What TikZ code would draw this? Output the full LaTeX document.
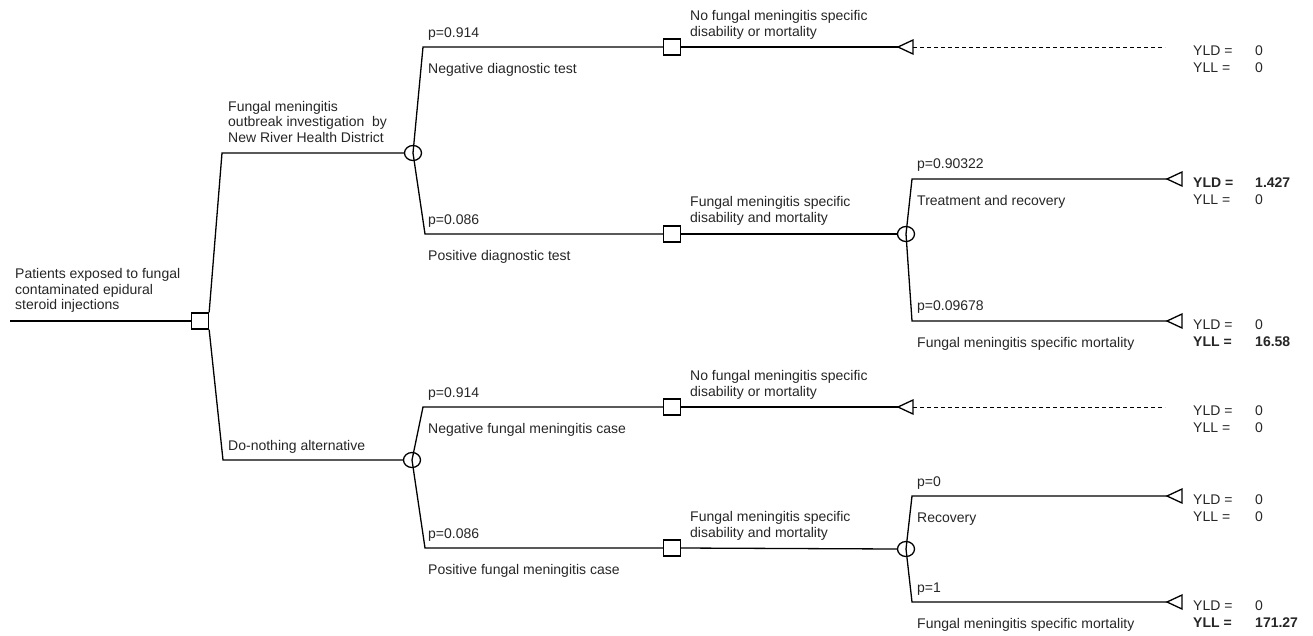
\documentclass[tikz,border=0pt]{standalone}
\usepackage{fontspec}
\setmainfont{Liberation Sans}
\usetikzlibrary{shapes.geometric}
\begin{document}
\begin{tikzpicture}[x=1pt,y=-1pt,
  txt/.style={anchor=base west, inner sep=0pt, font=\fontsize{14}{16}\selectfont, text=black!85},
  decnode/.style={draw, rectangle, line width=1.3pt, minimum width=17pt, minimum height=16pt, inner sep=0pt},
  chancenode/.style={draw, ellipse, line width=1.3pt, minimum width=17pt, minimum height=15pt, inner sep=0pt},
  branch/.style={line width=1.3pt},
  dashline/.style={line width=0.9pt, dash pattern=on 4pt off 3pt},
  tri/.style={line width=1.3pt, line join=miter}]
\useasboundingbox (0,0) rectangle (1313,635);

% ---------- nodes ----------
\coordinate (start) at (10,321);
\node[decnode] (d0) at (200,321) {};
\coordinate (c1) at (222,153);
\coordinate (c2) at (223,460);
\node[chancenode] (ch1) at (413,153) {};
\node[chancenode] (ch2) at (412,460) {};

\coordinate (c3) at (423,47);
\coordinate (c4) at (425,234);
\coordinate (c7) at (423,407);
\coordinate (c8) at (425,548);

\node[decnode] (s1) at (672,47) {};
\node[decnode] (s2) at (672,234) {};
\node[decnode] (s3) at (672,407) {};
\node[decnode] (s4) at (672,548) {};

\node[chancenode] (ch3) at (906,234) {};
\node[chancenode] (ch4) at (906,549) {};

\coordinate (c5) at (912,179);
\coordinate (c6) at (912,321);
\coordinate (c9) at (912,496);
\coordinate (c10) at (912,602);

% terminal tips
\coordinate (t1) at (898,47);
\coordinate (t1b) at (913,47);
\coordinate (e1) at (1165,47);
\coordinate (t4) at (898,407);
\coordinate (t4b) at (913,407);
\coordinate (e4) at (1165,407);
\coordinate (t2) at (1167,179);
\coordinate (t3) at (1167,321);
\coordinate (t5) at (1167,496);
\coordinate (t6) at (1167,602);

% ---------- connectors ----------
\draw[branch] (start) -- (d0.west);
\draw[branch] (d0.north east) -- (c1) -- (ch1.west);
\draw[branch] (d0.south east) -- (c2) -- (ch2.west);

\draw[branch] (ch1.center) -- (c3) -- (s1.west);
\draw[branch] (ch1.center) -- (c4) -- (s2.west);
\draw[branch] (ch2.center) -- (c7) -- (s3.west);
\draw[branch] (ch2.center) -- (c8) -- (s4.west);

\draw[branch] (s1.east) -- (t1);
\draw[branch] (s3.east) -- (t4);
\draw[branch] (s2.east) -- (ch3.west);
\draw[branch] (s4.east) -- (ch4.west);

\draw[branch] (ch3.center) -- (c5) -- (t2);
\draw[branch] (ch3.center) -- (c6) -- (t3);
\draw[branch] (ch4.center) -- (c9) -- (t5);
\draw[branch] (ch4.center) -- (c10) -- (t6);

\draw[dashline] (t1b) -- (e1);
\draw[dashline] (t4b) -- (e4);

% terminal triangles
\foreach \t in {t1,t2,t3,t4,t5,t6}{
  \draw[tri] (\t) -- ++(15,-7) -- ++(0,14) -- cycle;
}

% ---------- texts ----------
\node[txt] (r1) at (15,278) {Patients exposed to fungal};
\node[txt] (r2) at (15,294) {contaminated epidural};
\node[txt] (r3) at (15,309.5) {steroid injections};

\node[txt] (a1) at (228,111) {Fungal meningitis};
\node[txt] (a2) at (228,126.5) {outbreak investigation\ \ by};
\node[txt] (a3) at (228,142) {New River Health District};
\node[txt] (b1) at (228,450) {Do-nothing alternative};

\node[txt] (p1) at (428,37) {p=0.914};
\node[txt] (l1) at (428,73) {Negative diagnostic test};
\node[txt] (p2) at (428,224) {p=0.086};
\node[txt] (l2) at (428,260) {Positive diagnostic test};
\node[txt] (p3) at (428,397) {p=0.914};
\node[txt] (l3) at (428,433) {Negative fungal meningitis case};
\node[txt] (p4) at (428,538) {p=0.086};
\node[txt] (l4) at (428,574) {Positive fungal meningitis case};

\node[txt] (o1a) at (690,20.5) {No fungal meningitis specific};
\node[txt] (o1b) at (690,36) {disability or mortality};
\node[txt] (o2a) at (690,206.5) {Fungal meningitis specific};
\node[txt] (o2b) at (690,222) {disability and mortality};
\node[txt] (o3a) at (690,380.5) {No fungal meningitis specific};
\node[txt] (o3b) at (690,396) {disability or mortality};
\node[txt] (o4a) at (690,521.5) {Fungal meningitis specific};
\node[txt] (o4b) at (690,537) {disability and mortality};

\node[txt] (q1) at (917,168) {p=0.90322};
\node[txt] (m1) at (917,205) {Treatment and recovery};
\node[txt] (q2) at (917,310) {p=0.09678};
\node[txt] (m2) at (917,347) {Fungal meningitis specific mortality};
\node[txt] (q3) at (917,486) {p=0};
\node[txt] (m3) at (917,522) {Recovery};
\node[txt] (q4) at (917,592) {p=1};
\node[txt] (m4) at (917,628) {Fungal meningitis specific mortality};

% payoffs
\node[txt] (y1d) at (1193,55) {YLD =};   \node[txt] (v1d) at (1255,55) {0};
\node[txt] (y1l) at (1193,72.5) {YLL =}; \node[txt] (v1l) at (1255,72.5) {0};
\node[txt] (y2d) at (1193,187) {\textbf{YLD =}}; \node[txt] (v2d) at (1255,187) {\textbf{1.427}};
\node[txt] (y2l) at (1193,204.5) {YLL =}; \node[txt] (v2l) at (1255,204.5) {0};
\node[txt] (y3d) at (1193,329) {YLD =};  \node[txt] (v3d) at (1255,329) {0};
\node[txt] (y3l) at (1193,346.5) {\textbf{YLL =}}; \node[txt] (v3l) at (1255,346.5) {\textbf{16.58}};
\node[txt] (y4d) at (1193,415) {YLD =};  \node[txt] (v4d) at (1255,415) {0};
\node[txt] (y4l) at (1193,432.5) {YLL =}; \node[txt] (v4l) at (1255,432.5) {0};
\node[txt] (y5d) at (1193,504) {YLD =};  \node[txt] (v5d) at (1255,504) {0};
\node[txt] (y5l) at (1193,521.5) {YLL =}; \node[txt] (v5l) at (1255,521.5) {0};
\node[txt] (y6d) at (1193,610) {YLD =};  \node[txt] (v6d) at (1255,610) {0};
\node[txt] (y6l) at (1193,627.5) {\textbf{YLL =}}; \node[txt] (v6l) at (1255,627.5) {\textbf{171.27}};
\end{tikzpicture}
\end{document}
